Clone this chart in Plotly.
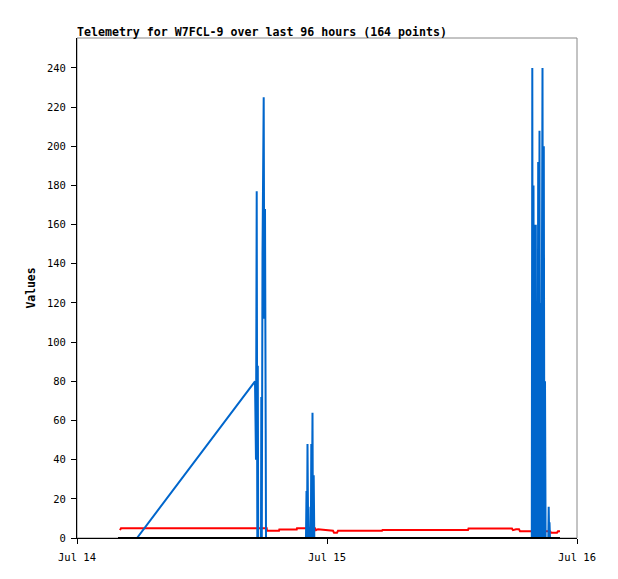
import plotly.graph_objects as go

# ---- data ----
blue_times = [
    "2023-07-14 05:45:36", "2023-07-14 17:05:18", "2023-07-14 17:11:00", "2023-07-14 17:15:07",
    "2023-07-14 17:18:34", "2023-07-14 17:21:26", "2023-07-14 17:23:44", "2023-07-14 17:39:50",
    "2023-07-14 17:41:34", "2023-07-14 17:44:26", "2023-07-14 17:48:29", "2023-07-14 17:55:24",
    "2023-07-14 17:58:51", "2023-07-14 18:02:53", "2023-07-14 18:06:55", "2023-07-14 18:08:38",
    "2023-07-14 21:59:02", "2023-07-14 22:01:55", "2023-07-14 22:05:00", "2023-07-14 22:07:41",
    "2023-07-14 22:11:42", "2023-07-14 22:22:05", "2023-07-14 22:24:58", "2023-07-14 22:27:00",
    "2023-07-14 22:29:35", "2023-07-14 22:32:00", "2023-07-14 22:36:29", "2023-07-14 22:39:00",
    "2023-07-14 22:43:24", "2023-07-14 22:46:51",
    "2023-07-15 19:39:36", "2023-07-15 19:42:30", "2023-07-15 19:45:24", "2023-07-15 19:49:26",
    "2023-07-15 19:52:19", "2023-07-15 19:55:46", "2023-07-15 19:59:14", "2023-07-15 20:02:41",
    "2023-07-15 20:05:34", "2023-07-15 20:09:36", "2023-07-15 20:12:29", "2023-07-15 20:16:31",
    "2023-07-15 20:19:58", "2023-07-15 20:24:00", "2023-07-15 20:26:53", "2023-07-15 20:30:20",
    "2023-07-15 20:33:48", "2023-07-15 20:41:17", "2023-07-15 20:45:19", "2023-07-15 20:48:46",
    "2023-07-15 20:52:13", "2023-07-15 20:55:41", "2023-07-15 20:59:08", "2023-07-15 21:14:41",
    "2023-07-15 21:17:00", "2023-07-15 21:19:55", "2023-07-15 21:21:36", "2023-07-15 21:24:29",
]
blue_values = [
    0, 80, 40, 177,
    0, 88, 0, 0,
    72, 0, 145, 225,
    112, 168, 56, 0,
    0, 24, 0, 48,
    0, 0, 16, 0,
    48, 0, 64, 0,
    32, 0,
    0, 240, 0, 180,
    0, 160, 0, 160,
    0, 80, 0, 192,
    0, 208, 0, 120,
    0, 240, 0, 200,
    0, 80, 0, 0,
    16, 0, 8, 0,
]

red_times = [
    "2023-07-14 04:07:41", "2023-07-14 04:13:26", "2023-07-14 18:12:40", "2023-07-14 18:14:24",
    "2023-07-14 19:23:31", "2023-07-14 19:25:14", "2023-07-14 21:05:28", "2023-07-14 21:07:12",
    "2023-07-14 22:50:53", "2023-07-14 22:56:38", "2023-07-14 23:08:10", "2023-07-15 00:34:34",
    "2023-07-15 00:40:19", "2023-07-15 00:57:36", "2023-07-15 01:03:22", "2023-07-15 05:16:48",
    "2023-07-15 05:19:41", "2023-07-15 13:32:10", "2023-07-15 13:35:02", "2023-07-15 17:45:36",
    "2023-07-15 17:51:22", "2023-07-15 18:08:38", "2023-07-15 18:25:55", "2023-07-15 18:31:41",
    "2023-07-15 21:24:29", "2023-07-15 21:30:14", "2023-07-15 22:04:48", "2023-07-15 22:10:34",
    "2023-07-15 22:22:05",
]
red_values = [
    4.0, 5.0, 5.0, 3.7,
    3.7, 4.3, 4.3, 5.0,
    5.0, 4.0, 4.5, 3.7,
    2.7, 2.7, 3.7, 3.7,
    4.1, 4.1, 4.8, 4.8,
    4.0, 4.5, 4.5, 3.4,
    3.4, 2.7, 2.7, 3.4,
    3.4,
]

black_times = ["2023-07-14 03:56:10", "2023-07-15 22:22:05"]
black_values = [0, 0]

x_range = ["2023-07-14 00:00", "2023-07-16 00:00"]
y_range = [0, 255.3]
x_ticks = ["2023-07-14", "2023-07-15", "2023-07-16"]
x_tick_labels = ["Jul 14", "Jul 15", "Jul 16"]
y_ticks = list(range(0, 241, 20))

title_text = "Telemetry for W7FCL-9 over last 96 hours (164 points)"
y_title = "Values"

# ---- figure ----
MONO = "DejaVu Sans Mono"
W, H = 610, 571  # page body has an 8px margin
fig = go.Figure()
fig.add_trace(go.Scatter(x=red_times, y=red_values, mode="lines",
                         line=dict(color="#ff0000", width=2)))
fig.add_trace(go.Scatter(x=blue_times, y=blue_values, mode="lines",
                         line=dict(color="#0066cc", width=2)))
fig.add_trace(go.Scatter(x=black_times, y=black_values, mode="lines",
                         line=dict(color="#000000", width=2)))

fig.add_shape(type="rect", xref="paper", yref="paper", x0=0, y0=0, x1=1, y1=1,
              line=dict(color="#888888", width=1), layer="below")

fig.update_layout(
    width=W, height=H,
    margin=dict(l=69, r=41, t=30, b=41),
    paper_bgcolor="white", plot_bgcolor="white",
    showlegend=False,
    title=dict(text=title_text, x=69/W, xref="container", xanchor="left",
               y=1 - 23.5/H, yref="container", yanchor="middle",
               font=dict(family=MONO, size=11.6, color="black", weight="bold")),
    xaxis=dict(type="date", range=x_range, tickvals=x_ticks, ticktext=x_tick_labels,
               ticks="outside", ticklen=5, tickcolor="black", showgrid=False,
               zeroline=False, showline=True, linecolor="black", linewidth=1,
               ticklabelstandoff=4,
               tickfont=dict(family=MONO, size=10.5, color="black")),
    yaxis=dict(range=y_range, tickvals=y_ticks, ticks="outside", ticklen=5,
               tickcolor="black", showgrid=False, zeroline=False, showline=True,
               linecolor="black", linewidth=1, ticklabelstandoff=3,
               tickfont=dict(family=MONO, size=10.5, color="black"),
               title=dict(text=y_title, standoff=8,
                          font=dict(family=MONO, size=11.4, color="black", weight="bold"))),
)

fig.write_html("out.html")
